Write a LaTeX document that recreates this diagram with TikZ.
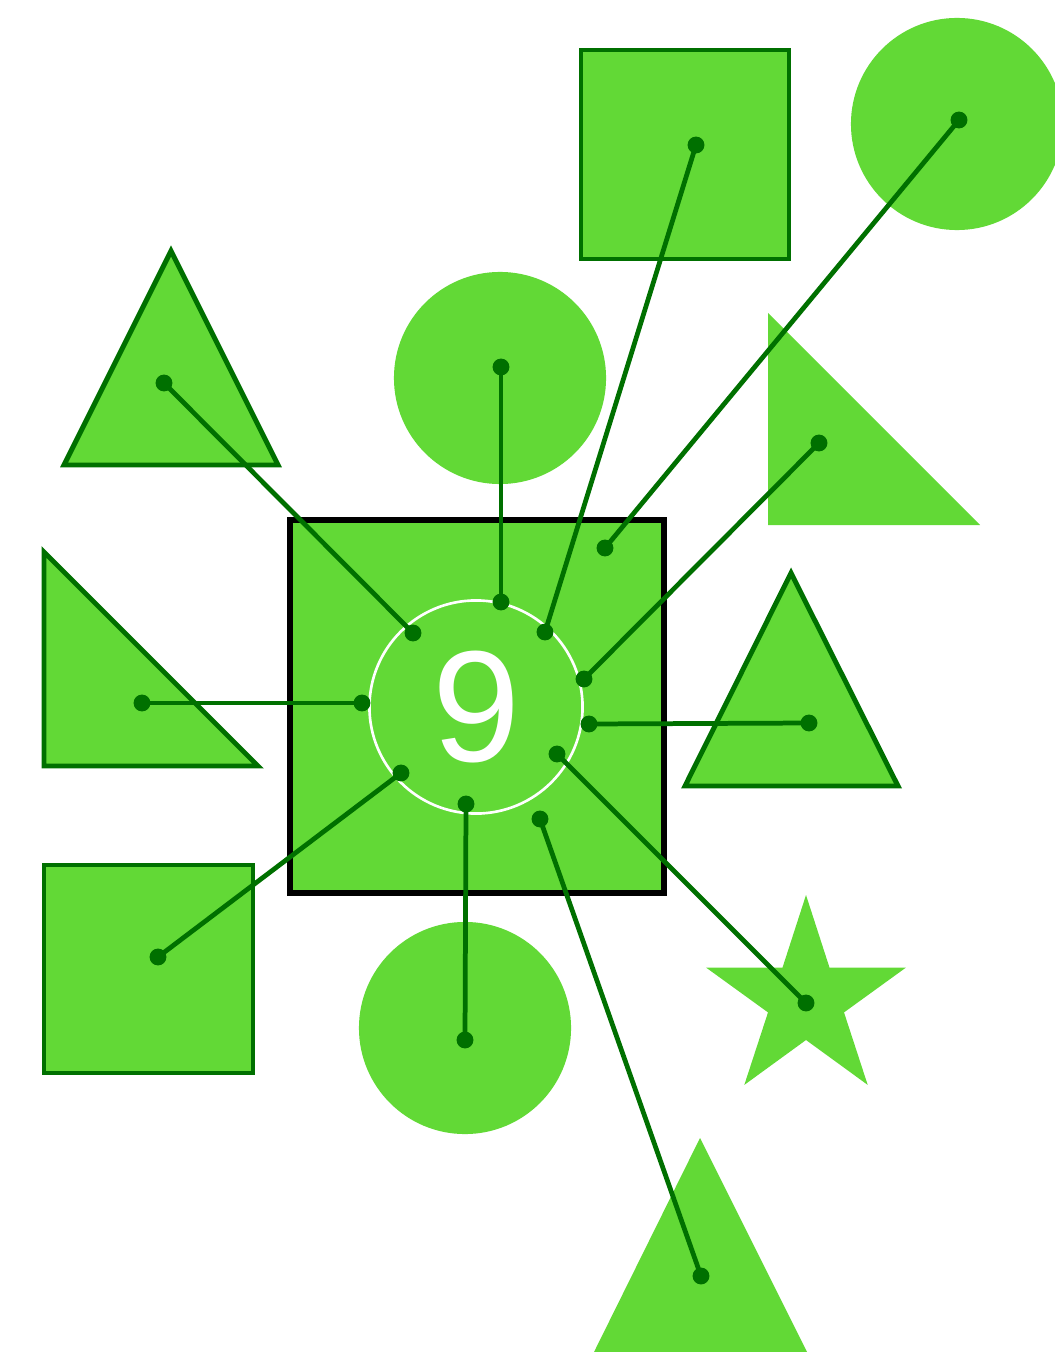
\documentclass[tikz,border=0pt]{standalone}
\usepackage{fontspec}
\newfontfamily\hubfont{Liberation Sans}
\usetikzlibrary{positioning}

\definecolor{leaf}{RGB}{98,217,54}
\definecolor{moss}{RGB}{0,112,0}

\begin{document}
\begin{tikzpicture}[
    x=0.01cm, y=-0.01cm,      % 1単位 = 1ピクセル（下向き）
    blob/.style={fill=leaf},
    rim/.style={draw=moss, line width=1.4pt},
    link/.style={draw=moss, line width=1.35pt},
    pin/.style={fill=moss}
]

    \useasboundingbox (0,0) rectangle (1055,1352);
    \clip (0,0) rectangle (1055,1352);

    % --- 1. 周りの図形 ---
    \draw [blob, rim] (581,50) rectangle (789,259);
    \fill [blob] (957,124) circle (1.06cm);
    \fill [blob] (500,378) circle (1.06cm);
    \draw [blob, rim] (171,251) -- (278,465) -- (64,465) -- cycle;
    \fill [blob] (768,313) -- (980,525) -- (768,525) -- cycle;
    \draw [blob, rim] (44,552) -- (258,766) -- (44,766) -- cycle;
    \draw [blob, rim] (791,573) -- (898,786) -- (685,786) -- cycle;
    \draw [blob, rim] (44,865) rectangle (253,1073);
    \fill [blob] (465,1028) circle (1.06cm);
    \fill [blob] (806,895) -- (782.5,967.6) -- (706.1,967.6) -- (768,1012.4)
        -- (744.3,1084.9) -- (806,1040) -- (867.7,1084.9) -- (844,1012.4)
        -- (905.9,967.6) -- (829.5,967.6) -- cycle;
    \fill [blob] (700,1138) -- (807,1352) -- (594,1352) -- cycle;

    % --- 2. 中央の四角と円 ---
    \draw [fill=leaf, draw=black, line width=1.5pt] (290,520) rectangle (664,893);
    \node [circle, draw=white, line width=0.75pt, minimum size=2.13cm, inner sep=0pt,
           text=white, font=\hubfont\fontsize{45}{45}\selectfont] (hub) at (476,707) {9};

    % --- 3. 端点 ---
    \coordinate (h1) at (413,633);   \coordinate (o1) at (164,383);
    \coordinate (h2) at (362,703);   \coordinate (o2) at (142,703);
    \coordinate (h3) at (401,773);   \coordinate (o3) at (158,957);
    \coordinate (h4) at (466,804);   \coordinate (o4) at (465,1040);
    \coordinate (h5) at (540,819);   \coordinate (o5) at (701,1276);
    \coordinate (h6) at (557,754);   \coordinate (o6) at (806,1003);
    \coordinate (h7) at (589,724);   \coordinate (o7) at (809,723);
    \coordinate (h8) at (584,679);   \coordinate (o8) at (819,443);
    \coordinate (h9) at (605,548);   \coordinate (o9) at (959,120);
    \coordinate (h10) at (545,632);  \coordinate (o10) at (696,145);
    \coordinate (h11) at (501,602);  \coordinate (o11) at (501,367);

    % --- 4. 接続線 ---
    \foreach \i in {1,...,11} {
        \draw [link] (h\i) -- (o\i);
        \fill [pin] (h\i) circle (2.4pt) (o\i) circle (2.4pt);
    }

\end{tikzpicture}
\end{document}
